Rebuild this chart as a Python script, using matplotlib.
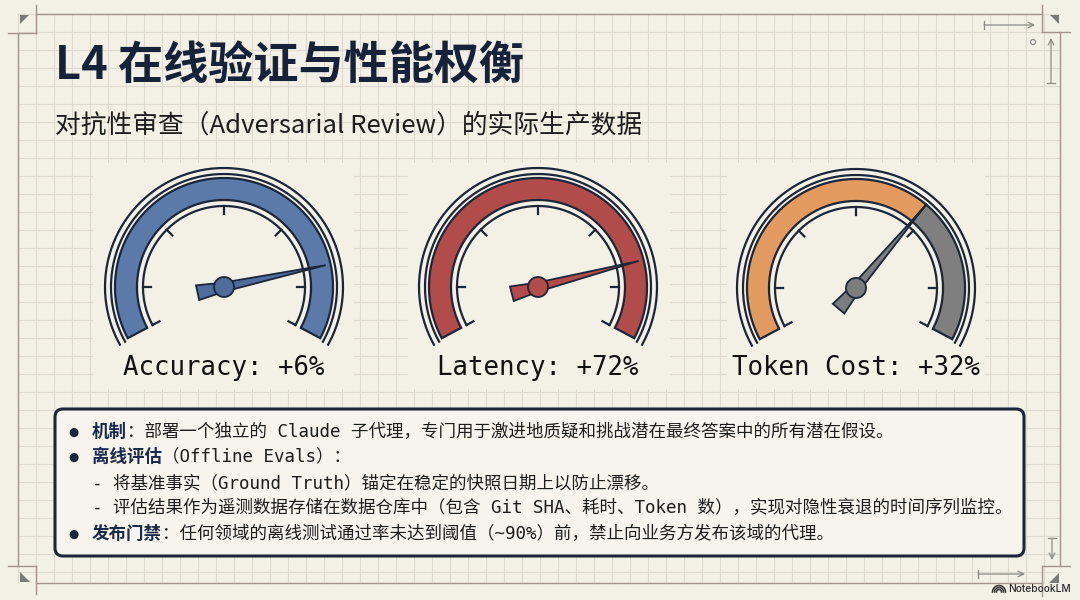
import matplotlib.pyplot as plt
import numpy as np
from matplotlib.patches import Polygon, Circle, Rectangle, FancyBboxPatch

# ---- data ----
metrics = ["Accuracy", "Latency", "Token Cost"]
changes = ["+6%", "+72%", "+32%"]
needle_pos = [0.83, 0.82, 0.67]      # needle position as fraction of dial sweep
band_split = [1.0, 1.0, 0.67]        # where the coloured band stops (rest is grey)
band_colors = ["#5b7aa9", "#b14c4b", "#e29a5f"]
rest_colors = [None, None, "#7f7f7f"]
needle_colors = ["#4e6d9d", "#b14c4b", "#7d7d7d"]

title = "L4 在线验证与性能权衡"
subtitle = "对抗性审查（Adversarial Review）的实际生产数据"
bullet_kind = ["bullet", "bullet", "sub", "sub", "bullet"]
bullet_head = ["机制", "离线评估", "", "", "发布门禁"]
bullet_body = [
    "：部署一个独立的 Claude 子代理，专门用于激进地质疑和挑战潜在最终答案中的所有潜在假设。",
    "（Offline Evals）：",
    "- 将基准事实（Ground Truth）锚定在稳定的快照日期上以防止漂移。",
    "- 评估结果作为遥测数据存储在数据仓库中（包含 Git SHA、耗时、Token 数），实现对隐性衰退的时间序列监控。",
    "：任何领域的离线测试通过率未达到阈值（~90%）前，禁止向业务方发布该域的代理。",
]

# ---- style ----
W, H = 1080, 600
BG = "#f3f0e6"
GRID = "#dedacf"
FRAME = "#a3958d"
NAVY = "#1b2639"
CJK = ["Noto Sans CJK SC", "DejaVu Sans"]
MONO = ["DejaVu Sans Mono", "Noto Sans CJK SC"]
A0, A1 = 208.0, -28.0   # dial start / end angle (degrees, screen up = positive)

fig = plt.figure(figsize=(10.8, 6), dpi=100)
fig.patch.set_facecolor(BG)
ax = fig.add_axes([0, 0, 1, 1])
ax.set_xlim(0, W)
ax.set_ylim(H, 0)
ax.axis("off")


def arc(cx, cy, r, a0, a1, n=160):
    t = np.radians(np.linspace(a0, a1, n))
    return cx + r * np.cos(t), cy - r * np.sin(t)


def band(cx, cy, r_in, r_out, a0, a1, color):
    xo, yo = arc(cx, cy, r_out, a0, a1)
    xi, yi = arc(cx, cy, r_in, a1, a0)
    pts = np.column_stack([np.r_[xo, xi], np.r_[yo, yi]])
    ax.add_patch(Polygon(pts, closed=True, fc=color, ec=NAVY, lw=1.6,
                         joinstyle="miter", zorder=3))


def needle(cx, cy, ang, color):
    a = np.radians(ang)
    u = np.array([np.cos(a), -np.sin(a)])
    v = np.array([np.sin(a), np.cos(a)])
    local = [(104, 0), (0, 4.5), (-27, 7.5), (-27, -7.5), (0, -4.5)]
    pts = [(cx + p * u[0] + q * v[0], cy + p * u[1] + q * v[1]) for p, q in local]
    ax.add_patch(Polygon(pts, closed=True, fc=color, ec=NAVY, lw=1.3,
                         joinstyle="miter", zorder=5))
    ax.add_patch(Circle((cx, cy), 10, fc=color, ec=NAVY, lw=1.3, zorder=6))


def dim_arrow(x0, y0, x1, y1):
    ax.annotate("", xy=(x1, y1), xytext=(x0, y0),
                arrowprops=dict(arrowstyle="->", color="#8a8a86", lw=0.9,
                                shrinkA=0, shrinkB=0))
    # bar at the tail
    dx, dy = x1 - x0, y1 - y0
    n = np.hypot(dx, dy)
    px, py = -dy / n * 4, dx / n * 4
    ax.plot([x0 - px, x0 + px], [y0 - py, y0 + py], color="#8a8a86", lw=0.9)


# ---- background grid and frame ----
for x in np.arange(18, 1061, 18):
    ax.plot([x, x], [14, 583], color=GRID, lw=0.8, zorder=0)
for y in np.arange(14, 584, 18):
    ax.plot([18, 1060], [y, y], color=GRID, lw=0.8, zorder=0)

frame = [([36, 1042], [14, 14]), ([36, 36], [5, 33]), ([8, 36], [33, 33]),
         ([18, 18], [33, 566]), ([8, 36], [566, 566]), ([36, 36], [566, 594]),
         ([36, 1042], [583, 583]), ([1042, 1042], [5, 32]), ([1042, 1070], [32, 32]),
         ([1060, 1060], [32, 566]), ([1042, 1070], [566, 566]), ([1042, 1042], [566, 596])]
for xs, ys in frame:
    ax.plot(xs, ys, color=FRAME, lw=1.0, zorder=1)
for tri in [[(20, 15), (29, 15), (20, 24)], [(1050, 15), (1059, 15), (1059, 24)],
            [(20, 572), (20, 582), (30, 582)], [(1059, 573), (1059, 583), (1049, 583)]]:
    ax.add_patch(Polygon(tri, closed=True, fc="#7a7a76", ec="none", zorder=1))
dim_arrow(984, 25, 1035, 25)
dim_arrow(1051, 83, 1051, 38)
dim_arrow(978, 574, 1025, 574)
dim_arrow(1052, 538, 1052, 560)
ax.add_patch(Circle((1033, 42), 2.5, fc="none", ec="#8a8a86", lw=0.9))

# ---- titles ----
ax.text(55, 66, title, family=CJK, weight="bold", fontsize=32.5, color="#16223a",
        va="center", ha="left", zorder=4)
ax.text(55, 126, subtitle, family=CJK, fontsize=18.5, color="#1d1d1d",
        va="center", ha="left", zorder=4)

# ---- gauges ----
centers = [(224, 287), (538, 287), (856, 288)]
patches_x = [(93, 354), (408, 670), (727, 985)]
for (x0, x1) in patches_x:
    ax.add_patch(Rectangle((x0, 163), x1 - x0, 226, fc=BG, ec="none", zorder=1))

for i, (cx, cy) in enumerate(centers):
    # outer double rim
    for r in (119, 113):
        xs, ys = arc(cx, cy, r, A0 + 1.5, A1 - 1.5)
        ax.plot(xs, ys, color=NAVY, lw=1.6, zorder=3, solid_capstyle="butt")
    # coloured band
    a_split = A0 - band_split[i] * (A0 - A1)
    band(cx, cy, 87, 109, A0, a_split, band_colors[i])
    if rest_colors[i] is not None:
        band(cx, cy, 87, 109, a_split, A1, rest_colors[i])
    # tick arc and ticks
    xs, ys = arc(cx, cy, 81, A0, A1)
    ax.plot(xs, ys, color=NAVY, lw=1.6, zorder=3)
    for t in [A0, 180, 135, 90, 45, 0, A1]:
        tr = np.radians(t)
        ax.plot([cx + 81 * np.cos(tr), cx + 73 * np.cos(tr)],
                [cy - 81 * np.sin(tr), cy - 73 * np.sin(tr)],
                color=NAVY, lw=1.6, zorder=3)
    needle(cx, cy, A0 - needle_pos[i] * (A0 - A1), needle_colors[i])
    ax.text(cx, 368, f"{metrics[i]}: {changes[i]}", family=MONO, fontsize=18.5,
            color="#111111", ha="center", va="center", zorder=4)

# ---- notes box ----
ax.add_patch(FancyBboxPatch((55, 409), 969, 147,
                            boxstyle="round,pad=0,rounding_size=8",
                            fc="#f6f4ec", ec=NAVY, lw=2.2, zorder=2))
line_y = [432, 457, 483, 508, 534]
for i, y in enumerate(line_y):
    if bullet_kind[i] == "bullet":
        ax.text(73, y, "●", family=["DejaVu Sans"], fontsize=8.5, color=NAVY,
                ha="center", va="center", zorder=4)
        head = ax.text(92, y, bullet_head[i], family=MONO, weight="bold",
                       fontsize=12.6, color="#1b2a4a", ha="left", va="center", zorder=4)
        ax.annotate(bullet_body[i], xy=(1, 0), xycoords=head, ha="left", va="bottom",
                    family=MONO, fontsize=12.6, color="#1d1d1d", zorder=4)
    else:
        ax.text(92, y, bullet_body[i], family=MONO, fontsize=12.6, color="#1d1d1d",
                ha="left", va="center", zorder=4)

# ---- watermark ----
for r in (2.5, 4.5, 6.5):
    xs, ys = arc(999, 592, r, 0, 180, 30)
    ax.plot(xs, ys, color="#333333", lw=1.1, zorder=4)
ax.text(1071, 589, "NotebookLM", family=["Inter", "DejaVu Sans"], fontsize=7.3,
        color="#2a2a2a", ha="right", va="center", weight="medium", zorder=4)

fig.savefig("out.png", dpi=100, facecolor=BG)
